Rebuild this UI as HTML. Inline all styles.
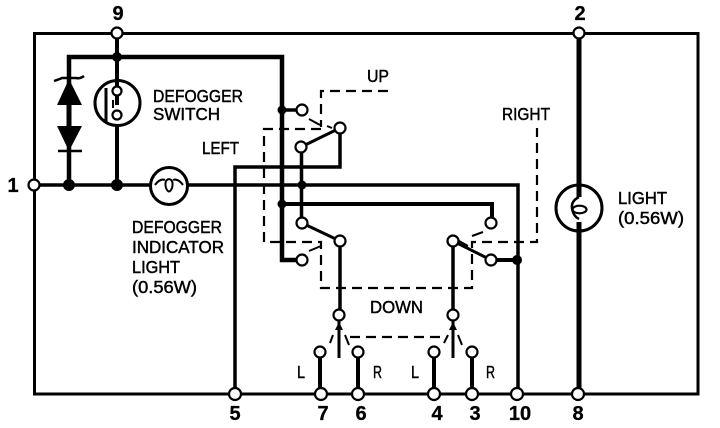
<!DOCTYPE html>
<html><head><meta charset="utf-8"><style>
html,body{margin:0;padding:0;background:#fff}
svg{display:block}
text{font-family:"Liberation Sans",sans-serif;fill:#000}
.l{font-size:17.500px;stroke:#000;stroke-width:.45}
.n{font-size:20px;font-weight:bold;text-anchor:middle;stroke:#000;stroke-width:.3}
.o{fill:#fff;stroke:#000;stroke-width:2.2}
</style></head><body>
<svg width="720" height="428" viewBox="0 0 720 428" xmlns="http://www.w3.org/2000/svg">
<rect width="720" height="428" fill="#fff"/>
<g fill="none" stroke="#000">
<!-- frame -->
<path d="M34.5 185V33.5H698V394H34.5V185" stroke-width="3"/>
<!-- thick bus -->
<path d="M69 185V57H282V260H302" stroke-width="4.5"/>
<path d="M117 33V105M117 125V185" stroke-width="4"/>
<path d="M282 110H302" stroke-width="3.5"/>
<path d="M282 204H492V223" stroke-width="4"/>
<!-- horizontal 1 line -->
<path d="M34 185H151M187 185H518V394" stroke-width="3.5"/>
<path d="M235 394V167H340V128" stroke-width="3.5"/>
<path d="M301.5 147V223" stroke-width="3.5"/>
<path d="M301 147L340 128M302 223L340 241M453 241L491 260" stroke-width="3"/>
<path d="M491 260H518" stroke-width="4"/>
<path d="M340 241V315M453 241V315" stroke-width="3.5"/>
<path d="M339 315V358M453 315V358" stroke-width="3"/>
<path d="M320 352V394M358 352V394M434 352V394M472 352V394" stroke-width="4"/>
<!-- big light -->
<path d="M579 33V197M579 222V394" stroke-width="5"/>
<circle cx="579" cy="208" r="23" stroke-width="3"/>
<path d="M579 197Q571 201 572 208Q573 216 579 219" stroke-width="2.5"/>
<ellipse cx="579.5" cy="209.5" rx="7" ry="3.8" stroke-width="2.2"/>
<!-- switch -->
<circle cx="117.5" cy="103" r="22.5" stroke-width="3"/>
<path d="M106 88V122" stroke-width="3"/>
<path d="M113 100V108" stroke-width="2"/>
<!-- indicator -->
<circle cx="169" cy="186" r="18.5" stroke-width="3"/>
<path d="M155 185Q160 178 165 180M183 185Q178 178 173 180M169 179Q164 180 166 188Q169 195 172 188Q174 180 169 179" stroke-width="2"/>
<!-- diode bars -->
<path d="M54 81Q60 79 62 78H76Q80 79 84 76" stroke-width="2.5"/>
<path d="M58 151H82" stroke-width="2.5"/>
<path d="M69 100V130" stroke-width="5"/>
<!-- dashed -->
<g stroke-width="2.2" stroke-dasharray="10 6">
<path d="M388 91H321V127"/>
<path d="M321 129H264V242H321V288H472V242H537V128"/>
<path d="M350 337H442"/>
</g>
<!-- switch ticks -->
<path d="M309 119L320 125M327 126L332 128M309 251L321 246M472 236L483 232M459 241L468 246" stroke-width="2"/>
<path d="M330 343L333 335M345 335L349 345M444 343L448 335M458 335L462 345" stroke-width="2"/>
</g>
<!-- filled -->
<path d="M69 79L57 105H82Z M57 126H82L69 151Z"/>
<path d="M339 322L335 330H343Z M453 322L449 330H457Z"/>
<g>
<circle cx="117" cy="57" r="5"/><circle cx="69" cy="185" r="6"/><circle cx="117" cy="185" r="6"/>
<circle cx="282" cy="110" r="4.5"/><circle cx="282" cy="204" r="4.5"/><circle cx="302" cy="185" r="4.5"/><circle cx="517" cy="260" r="5"/>
</g>
<!-- open nodes -->
<g class="o">
<circle cx="117" cy="33" r="5.5"/><circle cx="579" cy="33" r="5.5"/><circle cx="34" cy="185" r="5.5"/>
<circle cx="117" cy="91" r="4.5"/><circle cx="117" cy="115" r="4.5"/>
<circle cx="302" cy="110" r="5.5"/><circle cx="340" cy="128" r="5.5"/><circle cx="301" cy="147" r="5.5"/>
<circle cx="302" cy="223" r="5.5"/><circle cx="340" cy="241" r="5.5"/><circle cx="302" cy="260" r="5.5"/>
<circle cx="491" cy="223" r="5.5"/><circle cx="453" cy="241" r="5.5"/><circle cx="491" cy="260" r="5.5"/>
<circle cx="339" cy="315" r="5.5"/><circle cx="453" cy="315" r="5.5"/>
<circle cx="320" cy="352" r="5.5"/><circle cx="358" cy="352" r="5.5"/><circle cx="434" cy="352" r="5.5"/><circle cx="472" cy="352" r="5.5"/>
<circle cx="235" cy="394" r="6"/><circle cx="321" cy="394" r="6"/><circle cx="358" cy="394" r="6"/><circle cx="434" cy="394" r="6"/><circle cx="472" cy="394" r="6"/><circle cx="517" cy="394" r="6"/><circle cx="578" cy="394" r="6"/>
</g>
<!-- labels -->
<text class="n" x="118" y="20">9</text>
<text class="n" x="580" y="20">2</text>
<text class="n" x="13" y="192">1</text>
<text class="n" x="235" y="420">5</text>
<text class="n" x="323" y="420">7</text>
<text class="n" x="361" y="420">6</text>
<text class="n" x="437" y="420">4</text>
<text class="n" x="475" y="420">3</text>
<text class="n" x="520" y="420">10</text>
<text class="n" x="578" y="420">8</text>
<text class="l" x="153" y="102" textLength="90" lengthAdjust="spacingAndGlyphs">DEFOGGER</text>
<text class="l" x="153" y="120" textLength="67" lengthAdjust="spacingAndGlyphs">SWITCH</text>
<text class="l" x="202" y="154" textLength="37" lengthAdjust="spacingAndGlyphs">LEFT</text>
<text class="l" x="367" y="82" textLength="22" lengthAdjust="spacingAndGlyphs">UP</text>
<text class="l" x="502" y="120" textLength="48" lengthAdjust="spacingAndGlyphs">RIGHT</text>
<text class="l" x="132" y="233" textLength="90" lengthAdjust="spacingAndGlyphs">DEFOGGER</text>
<text class="l" x="132" y="253" textLength="92" lengthAdjust="spacingAndGlyphs">INDICATOR</text>
<text class="l" x="132" y="273" textLength="48" lengthAdjust="spacingAndGlyphs">LIGHT</text>
<text class="l" x="132" y="293" textLength="65" lengthAdjust="spacingAndGlyphs">(0.56W)</text>
<text class="l" x="618" y="204" textLength="49" lengthAdjust="spacingAndGlyphs">LIGHT</text>
<text class="l" x="618" y="224" textLength="66" lengthAdjust="spacingAndGlyphs">(0.56W)</text>
<text class="l" x="370" y="313" textLength="53" lengthAdjust="spacingAndGlyphs">DOWN</text>
<text class="l" x="297" y="378" textLength="8" lengthAdjust="spacingAndGlyphs">L</text>
<text class="l" x="373" y="378" textLength="9" lengthAdjust="spacingAndGlyphs">R</text>
<text class="l" x="411" y="378" textLength="8" lengthAdjust="spacingAndGlyphs">L</text>
<text class="l" x="486" y="378" textLength="9" lengthAdjust="spacingAndGlyphs">R</text>
</svg>
</body></html>
